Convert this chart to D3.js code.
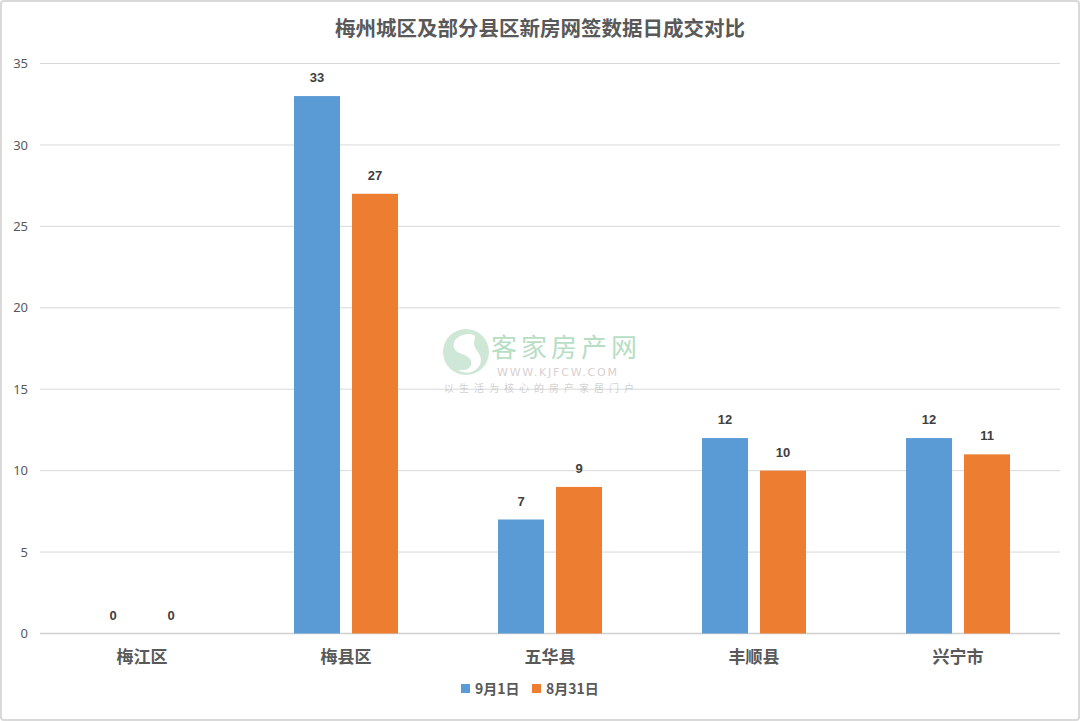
<!DOCTYPE html>
<meta charset="utf-8">
<head>
<style>
  body { margin: 0; background: #fff; }
  text { font-family: "Noto Sans CJK SC", "Noto Sans", sans-serif; }
  .axis path, .axis line { fill: none; }
</style>
</head>
<body>
<script src="https://cdn.jsdelivr.net/npm/d3@7/dist/d3.min.js"></script>
<script>

const categories = ["梅江区", "梅县区", "五华县", "丰顺县", "兴宁市"];
const seriesNames = ["9月1日", "8月31日"];
const sep1 = [0, 33, 7, 12, 12];
const aug31 = [0, 27, 9, 10, 11];
const yTicks = [0, 5, 10, 15, 20, 25, 30, 35];
const colors = ["#5B9BD5", "#ED7D31"];

const W = 1080, H = 721;
const margin = {top: 63.5, right: 20, bottom: 87.5, left: 40};
const width = W - margin.left - margin.right,
      height = H - margin.top - margin.bottom;

const svg = d3.select("body").append("svg")
  .attr("width", W)
  .attr("height", H);

// outer frame
svg.append("rect")
  .attr("x", 1).attr("y", 1)
  .attr("width", W - 2).attr("height", H - 2)
  .attr("rx", 3)
  .attr("fill", "#fff")
  .attr("stroke", "#d9d9d9")
  .attr("stroke-width", 2);

svg.append("text")
  .attr("x", W / 2)
  .attr("y", 36)
  .attr("text-anchor", "middle")
  .attr("font-size", 20.5)
  .attr("font-weight", "bold")
  .attr("fill", "#595959")
  .text("梅州城区及部分县区新房网签数据日成交对比");

const g = svg.append("g")
  .attr("transform", "translate(" + margin.left + "," + margin.top + ")");

const x = d3.scaleBand().domain(categories).range([0, width]);
const y = d3.scaleLinear().domain([0, 35]).range([height, 0]);

// gridlines
g.append("g")
  .selectAll("line")
  .data(yTicks)
  .join("line")
    .attr("x1", 0).attr("x2", width)
    .attr("y1", d => y(d)).attr("y2", d => y(d))
    .attr("stroke", d => d === 0 ? "#d0d0d0" : "#d9d9d9")
    .attr("stroke-width", d => d === 0 ? 1.5 : 1);

// y axis labels
const yAxis = d3.axisLeft(y).tickValues(yTicks).tickSize(0).tickPadding(12);
g.append("g")
  .attr("class", "axis")
  .call(yAxis)
  .call(s => s.select(".domain").remove())
  .selectAll("text")
    .attr("font-size", 13)
    .attr("fill", "#595959")
    .style("font-family", "'Noto Sans', sans-serif");

// x axis labels
const xAxis = d3.axisBottom(x).tickSize(0).tickPadding(17);
g.append("g")
  .attr("class", "axis")
  .attr("transform", "translate(0," + height + ")")
  .call(xAxis)
  .call(s => s.select(".domain").remove())
  .selectAll("text")
    .attr("font-size", 17)
    .attr("font-weight", "bold")
    .attr("fill", "#595959");

// watermark
const wm = svg.append("g").attr("opacity", 0.55);
wm.append("circle").attr("cx", 466).attr("cy", 352).attr("r", 23)
  .attr("fill", "#a8d5b5");
wm.append("path")
  .attr("d", "M470,334 C452,334 448,350 462,354 C476,358 474,372 458,370 C470,378 488,366 478,352 C468,340 482,336 470,334 Z")
  .attr("fill", "#fff");
wm.append("text").attr("x", 491).attr("y", 357)
  .attr("font-size", 26).attr("fill", "#7cc494").attr("letter-spacing", 4)
  .text("客家房产网");
wm.append("text").attr("x", 497).attr("y", 376)
  .attr("font-size", 11).attr("fill", "#b8a9a9").attr("letter-spacing", 1.8)
  .style("font-family", "'DejaVu Sans', sans-serif")
  .text("WWW.KJFCW.COM");
wm.append("text").attr("x", 444).attr("y", 392)
  .attr("font-size", 10).attr("fill", "#b0b0b0").attr("letter-spacing", 5)
  .text("以生活为核心的房产家居门户");

// bars
const data = categories.map((c, i) => ({cat: c, values: [sep1[i], aug31[i]]}));
const barW = 46, gap = 12;

const groups = g.append("g")
  .selectAll("g")
  .data(data)
  .join("g")
    .attr("transform", d => "translate(" + (x(d.cat) + x.bandwidth() / 2) + ",0)");

groups.selectAll("rect")
  .data(d => d.values)
  .join("rect")
    .attr("x", (d, i) => i === 0 ? -gap / 2 - barW : gap / 2)
    .attr("y", d => y(d))
    .attr("width", barW)
    .attr("height", d => height - y(d))
    .attr("fill", (d, i) => colors[i]);

groups.selectAll("text")
  .data(d => d.values)
  .join("text")
    .attr("x", (d, i) => i === 0 ? -gap / 2 - barW / 2 : gap / 2 + barW / 2)
    .attr("y", d => y(d) - 14)
    .attr("text-anchor", "middle")
    .attr("font-size", 13)
    .attr("font-weight", "bold")
    .attr("fill", "#404040")
    .style("font-family", "'Liberation Sans', 'Noto Sans', sans-serif")
    .text(d => d);

// legend
const legend = svg.append("g").attr("transform", "translate(461,689)");
const items = legend.selectAll("g")
  .data(seriesNames)
  .join("g")
    .attr("transform", (d, i) => "translate(" + (i * 71) + ",0)");
items.append("rect")
  .attr("x", 0).attr("y", -5)
  .attr("width", 9).attr("height", 9)
  .attr("fill", (d, i) => colors[i]);
items.append("text")
  .attr("x", 14).attr("y", 5)
  .attr("font-size", 14)
  .attr("font-weight", "bold")
  .attr("fill", "#595959")
  .text(d => d);

</script>
</body>
